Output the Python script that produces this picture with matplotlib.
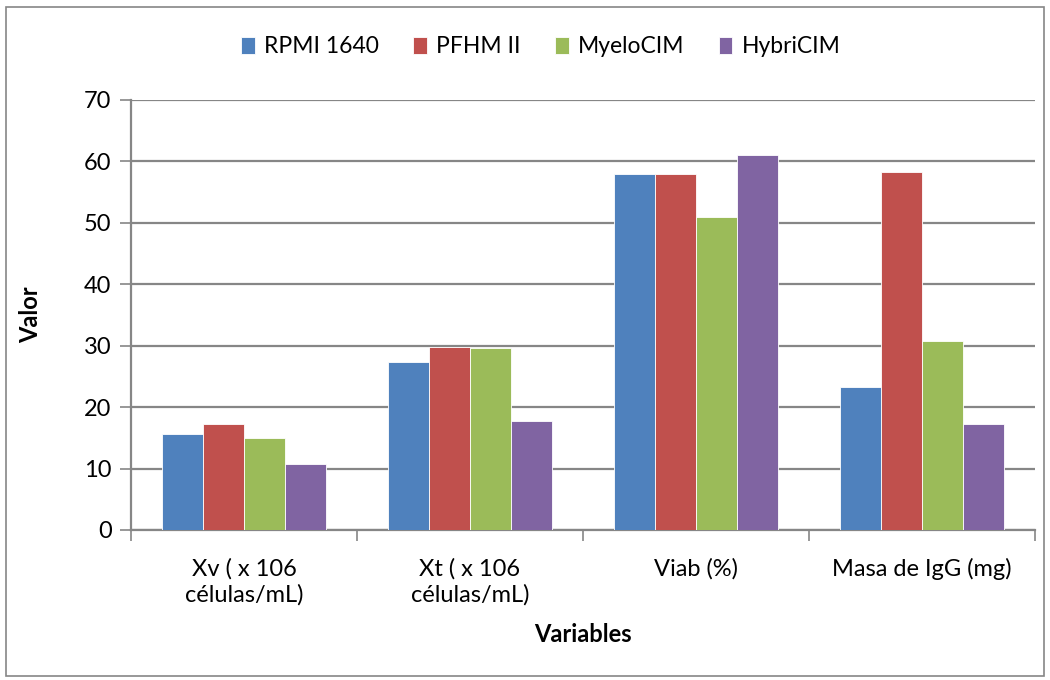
import numpy as np
import matplotlib.pyplot as plt
from matplotlib.patches import Rectangle

plt.rcParams['font.family'] = ['Lato', 'DejaVu Sans']

# datos
categorias = ["Xv ( x 106\ncélulas/mL)", "Xt ( x 106\ncélulas/mL)", "Viab (%)", "Masa de IgG (mg)"]
medios = ["RPMI 1640", "PFHM II", "MyeloCIM", "HybriCIM"]
rpmi = [15.7, 27.3, 58.0, 23.2]
pfhm = [17.2, 29.8, 58.0, 58.3]
myelo = [14.9, 29.6, 51.0, 30.8]
hybri = [10.7, 17.8, 61.0, 17.3]
colores = ["#4F81BD", "#C0504D", "#9BBB59", "#8064A2"]

series = [rpmi, pfhm, myelo, hybri]

fig = plt.figure(figsize=(10.5, 6.8), dpi=100)
ax = fig.add_axes([0.1248, 0.2206, 0.861, 0.6324])

# borde exterior del grafico
fig.patches.append(Rectangle((0.006, 0.006), 0.988, 0.984, transform=fig.transFigure,
                             fill=False, edgecolor="#868686", linewidth=1.2))

x = np.arange(len(categorias))
ancho = 0.727 / 4
for i, (vals, nombre) in enumerate(zip(series, medios)):
    pos = x - 0.727 / 2 + ancho * (i + 0.5)
    ax.bar(pos, vals, width=ancho, color=colores[i], label=nombre,
           edgecolor="#ffffff", linewidth=0.6, zorder=3)

ax.set_xlim(-0.5, len(categorias) - 0.5)
ax.set_ylim(0, 70)
ax.set_yticks(np.arange(0, 71, 10))
ax.yaxis.grid(True, color="#868686", linewidth=1.6, zorder=0)

ax.set_xticks(x)
ax.set_xticklabels(categorias, fontsize=17, linespacing=1.3)
ax.set_xticks(np.arange(-0.5, len(categorias)), minor=True)
ax.tick_params(axis="x", which="major", length=0, pad=20)
ax.tick_params(axis="x", which="minor", length=8, color="#868686", width=1.2)
ax.tick_params(axis="y", length=8, color="#868686", width=1.2, labelsize=17, pad=6)

for lado in ["top", "right"]:
    ax.spines[lado].set_visible(False)
for lado in ["left", "bottom"]:
    ax.spines[lado].set_color("#868686")
    ax.spines[lado].set_linewidth(1.6)

ax.set_ylabel("Valor", fontsize=17, fontweight="bold", labelpad=30)
ax.set_xlabel("Variables", fontsize=17, fontweight="bold", labelpad=12)

fig.legend(loc="center", bbox_to_anchor=(0.515, 0.931), ncol=4, frameon=False,
           fontsize=16.5, handlelength=0.6, handleheight=0.75, handletextpad=0.4,
           columnspacing=1.5)

fig.savefig("out.png", dpi=100)
